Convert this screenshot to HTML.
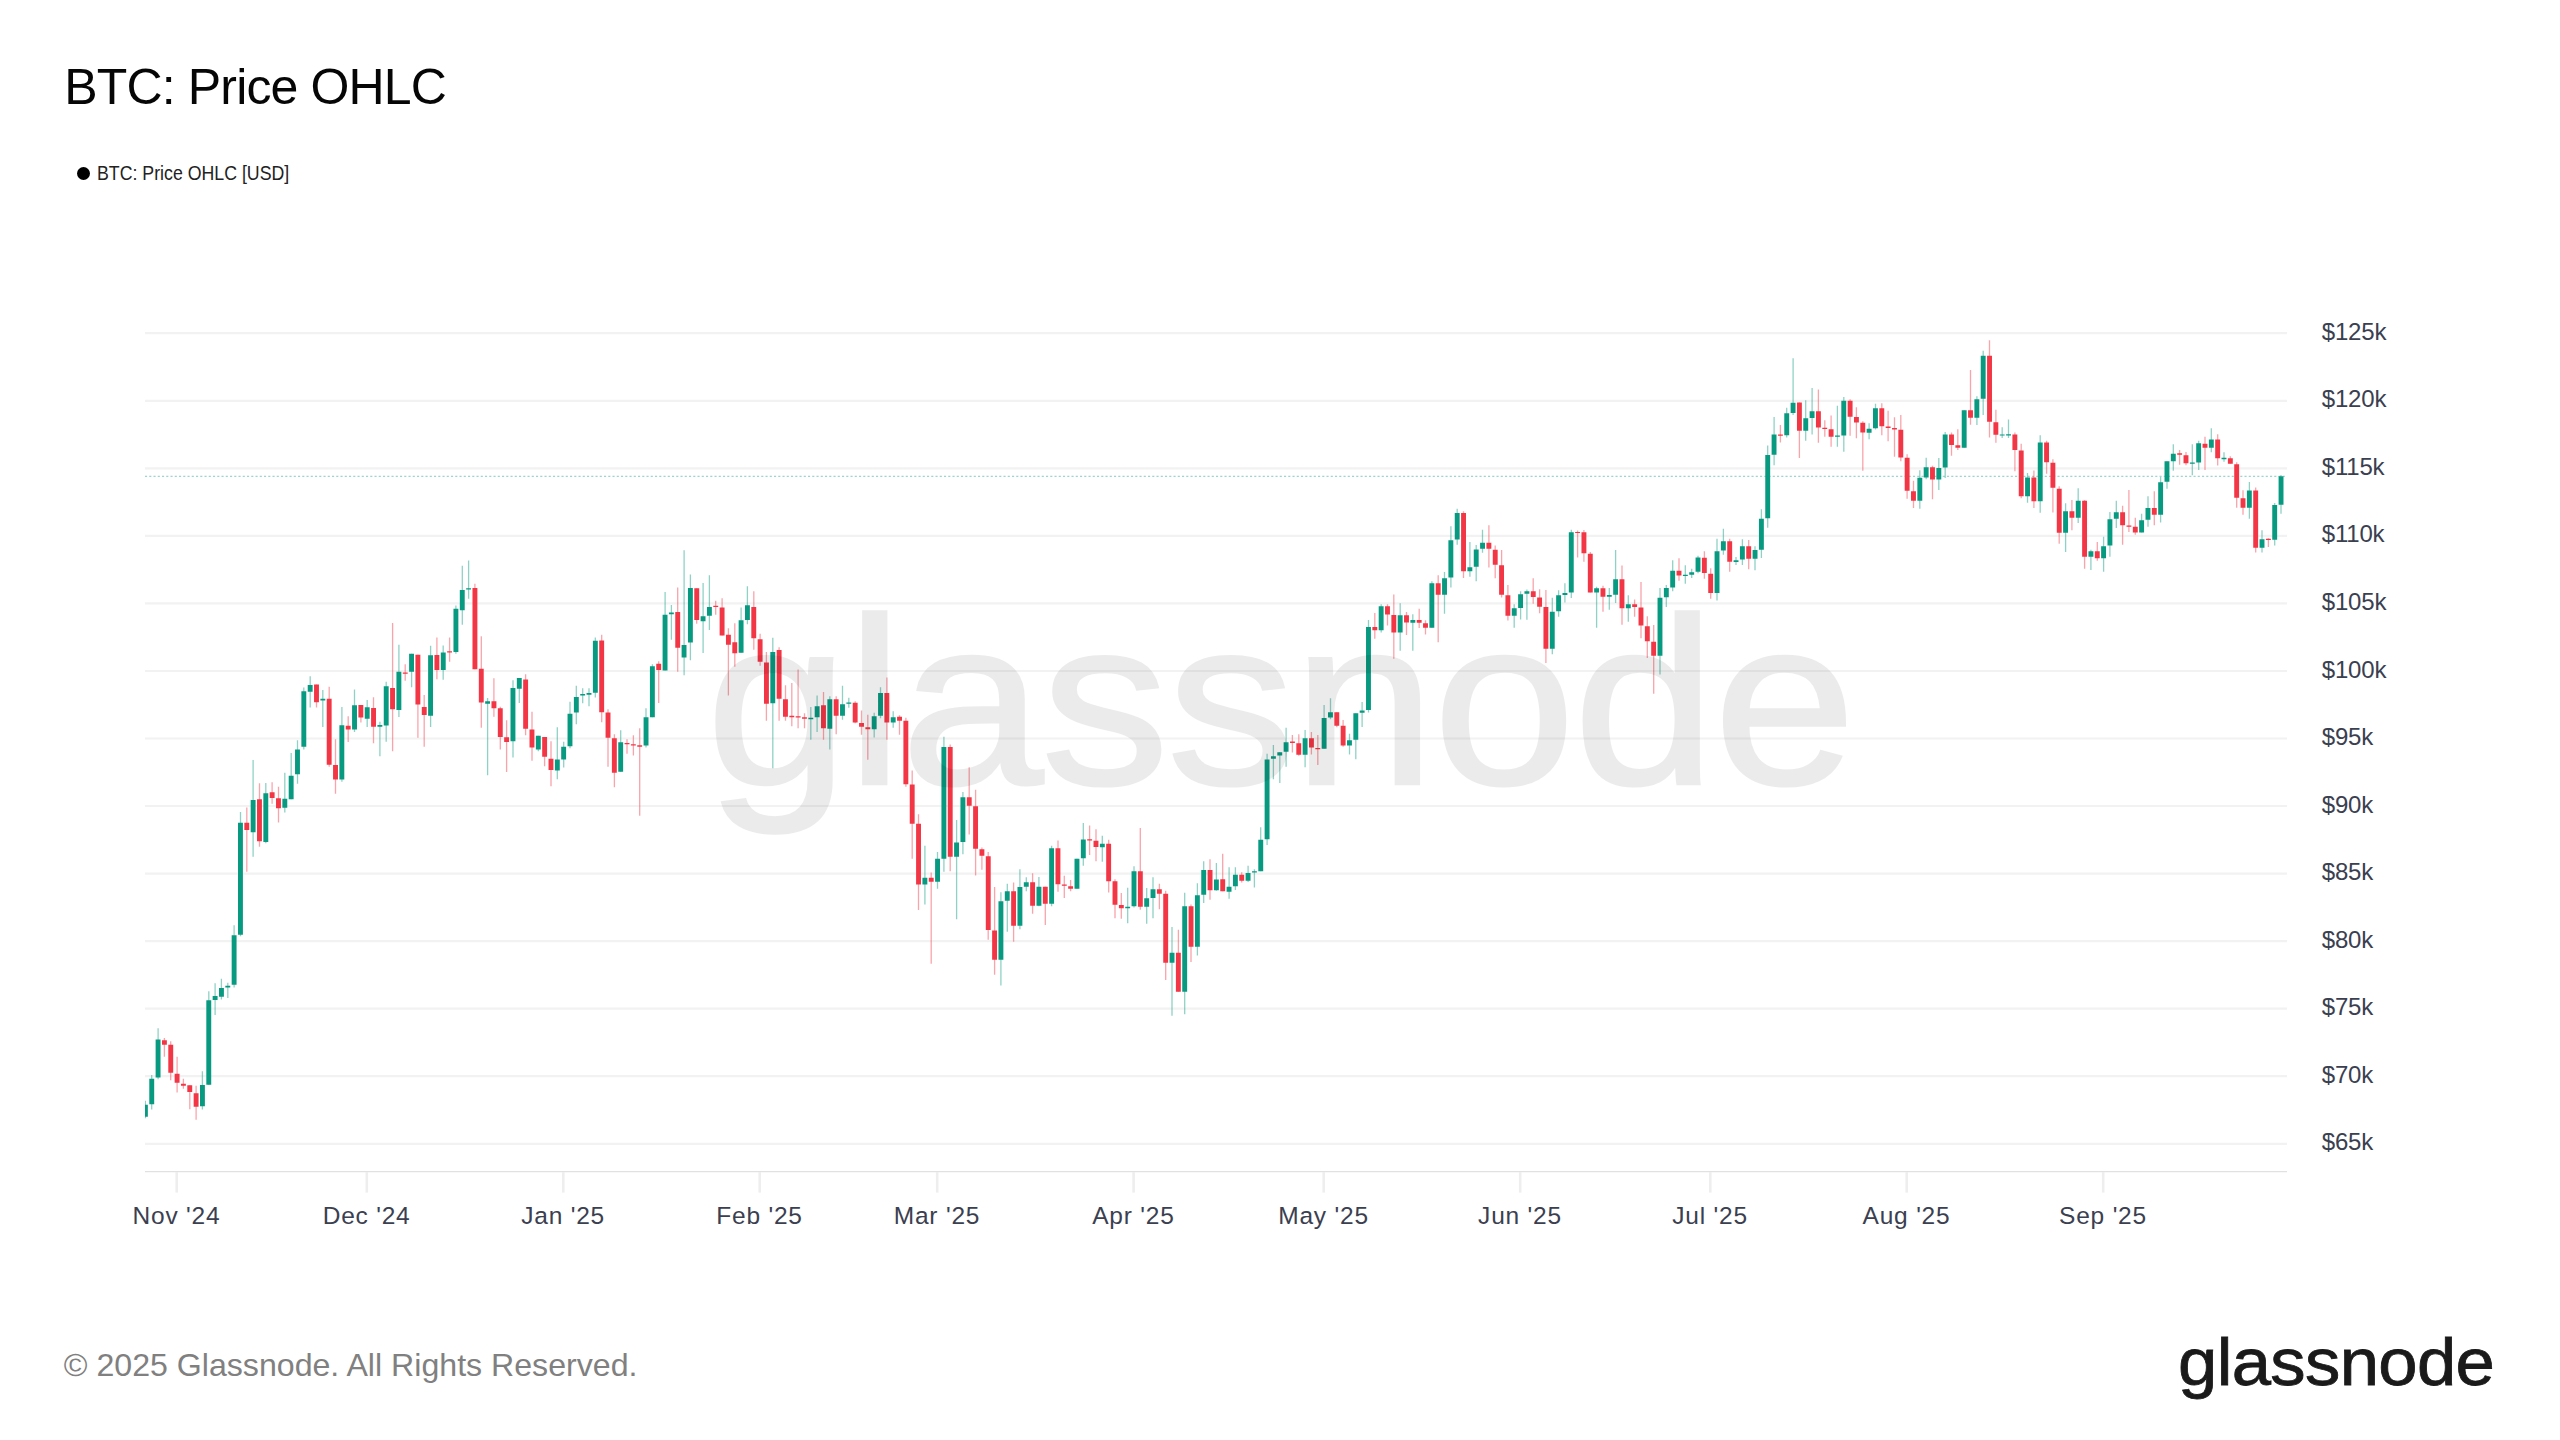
<!DOCTYPE html>
<html lang="en"><head><meta charset="utf-8"><title>BTC: Price OHLC</title>
<style>
html,body{margin:0;padding:0;background:#fff;}
body{width:2560px;height:1440px;position:relative;overflow:hidden;font-family:"Liberation Sans",sans-serif;}
.abs{position:absolute;white-space:nowrap;line-height:1;}
#title{left:64.3px;top:62.0px;font-size:50px;color:#060606;letter-spacing:-0.85px;}
#legend{left:96.6px;top:162.1px;font-size:21px;color:#222;transform-origin:0 0;transform:scaleX(0.845);}
#dot{left:76.6px;top:166.6px;width:13.3px;height:13.3px;border-radius:50%;background:#000;}
#footer{left:63.8px;top:1349.1px;font-size:32.13px;color:#808080;}
#logo{left:2177.5px;top:1328.9px;font-size:66px;color:#1a1a1a;-webkit-text-stroke:0.8px #1a1a1a;letter-spacing:-0.6px;transform-origin:0 0;transform:scaleX(1.07);}
#wm{left:705.8px;top:582.5px;font-size:238px;color:#000;opacity:0.075;-webkit-text-stroke:2.5px #000;letter-spacing:-2.16px;transform-origin:0 0;transform:scaleX(1.077);}
.yl{left:2321.8px;font-size:24px;color:#3b4050;letter-spacing:-0.2px;}
.xl{font-size:24.5px;color:#3b4050;transform:translateX(-50%);top:1203.8px;letter-spacing:0.8px;}
svg{position:absolute;left:0;top:0;}
</style></head><body>
<svg width="2560" height="1440" viewBox="0 0 2560 1440" shape-rendering="auto">
<g stroke="#f2f2f2" stroke-width="2.2">
<line x1="145" y1="333.2" x2="2287" y2="333.2"/>
<line x1="145" y1="400.8" x2="2287" y2="400.8"/>
<line x1="145" y1="468.3" x2="2287" y2="468.3"/>
<line x1="145" y1="535.8" x2="2287" y2="535.8"/>
<line x1="145" y1="603.4" x2="2287" y2="603.4"/>
<line x1="145" y1="671.0" x2="2287" y2="671.0"/>
<line x1="145" y1="738.5" x2="2287" y2="738.5"/>
<line x1="145" y1="806.0" x2="2287" y2="806.0"/>
<line x1="145" y1="873.6" x2="2287" y2="873.6"/>
<line x1="145" y1="941.1" x2="2287" y2="941.1"/>
<line x1="145" y1="1008.7" x2="2287" y2="1008.7"/>
<line x1="145" y1="1076.2" x2="2287" y2="1076.2"/>
<line x1="145" y1="1143.8" x2="2287" y2="1143.8"/>
</g>
<line x1="145" y1="1171.6" x2="2287" y2="1171.6" stroke="#e1e1e1" stroke-width="1.3"/>
<g stroke="#eeeeee" stroke-width="2.6">
<line x1="176.7" y1="1172" x2="176.7" y2="1192.6"/>
<line x1="366.8" y1="1172" x2="366.8" y2="1192.6"/>
<line x1="563.3" y1="1172" x2="563.3" y2="1192.6"/>
<line x1="759.7" y1="1172" x2="759.7" y2="1192.6"/>
<line x1="937.2" y1="1172" x2="937.2" y2="1192.6"/>
<line x1="1133.6" y1="1172" x2="1133.6" y2="1192.6"/>
<line x1="1323.7" y1="1172" x2="1323.7" y2="1192.6"/>
<line x1="1520.2" y1="1172" x2="1520.2" y2="1192.6"/>
<line x1="1710.3" y1="1172" x2="1710.3" y2="1192.6"/>
<line x1="1906.7" y1="1172" x2="1906.7" y2="1192.6"/>
<line x1="2103.2" y1="1172" x2="2103.2" y2="1192.6"/>
</g>
<line x1="145" y1="476.3" x2="2287" y2="476.3" stroke="#089981" stroke-opacity="0.5" stroke-width="1" stroke-dasharray="2.1,2.15"/>
<clipPath id="cp"><rect x="145" y="300" width="2142" height="871"/></clipPath>
<g clip-path="url(#cp)">
<g fill="#089981" stroke="#089981" stroke-width="1.3" stroke-opacity="0.45">
<path fill="none" d="M145.4 1100.8V1118.3M151.7 1075.0V1109.5M158.1 1028.3V1079.2M202.4 1071.2V1109.5M208.8 991.3V1085.0M215.1 983.3V1015.0M221.4 978.7V999.5M227.8 982.8V998.0M234.1 925.3V987.5M240.5 812.0V936.3M253.1 760.0V856.7M265.8 783.0V843.3M284.8 772.8V812.5M291.2 753.0V799.2M297.5 740.3V783.7M303.8 687.5V749.5M310.2 676.2V707.5M322.8 690.0V727.0M341.9 707.0V781.7M354.5 689.5V732.0M367.2 700.0V727.0M379.9 721.7V756.3M386.2 681.7V741.7M398.9 644.7V717.0M411.6 653.7V687.2M430.6 645.8V727.0M443.2 645.5V679.7M455.9 605.5V653.7M462.3 565.8V624.7M468.6 560.5V598.8M487.6 698.0V775.3M513.0 680.3V757.5M519.3 678.0V703.0M538.3 735.8V751.2M557.3 727.2V779.2M563.7 741.7V767.5M570.0 701.7V748.3M576.3 685.8V724.2M582.7 688.3V703.3M589.0 688.3V706.2M595.3 637.5V697.5M620.7 730.3V772.0M646.0 708.3V747.5M652.4 664.2V717.2M665.1 592.0V670.5M671.4 605.0V639.7M684.1 550.3V675.3M690.4 574.5V660.3M703.1 583.0V653.0M709.4 575.3V630.0M741.1 607.5V652.8M747.4 586.3V624.2M772.8 637.8V768.3M810.8 707.0V739.7M817.1 695.5V732.0M829.8 696.2V749.5M842.5 685.8V719.7M848.8 697.8V707.8M874.2 712.8V737.5M880.5 687.2V718.3M893.2 711.3V727.8M924.9 845.8V904.5M937.5 852.0V888.8M943.9 736.7V871.7M956.6 820.0V919.2M962.9 792.0V854.2M1000.9 892.2V985.5M1007.3 883.8V931.7M1019.9 869.2V929.2M1026.3 877.2V891.3M1038.9 877.0V906.3M1051.6 845.8V906.2M1077.0 858.7V888.8M1083.3 823.0V865.8M1102.3 835.8V861.7M1127.7 887.8V923.3M1134.0 866.3V907.5M1146.7 888.0V923.7M1153.0 877.2V918.3M1172.0 927.0V1015.8M1184.7 892.8V1014.2M1197.4 883.3V955.5M1203.7 861.3V903.0M1216.4 863.0V890.8M1229.1 867.2V898.7M1235.4 867.2V890.0M1248.1 865.8V882.0M1254.4 869.2V887.5M1260.7 827.2V871.2M1267.1 753.8V845.0M1273.4 745.0V779.2M1279.8 752.2V783.0M1286.1 727.8V766.7M1305.1 730.0V767.2M1324.1 705.0V748.8M1330.5 698.3V719.2M1349.5 733.8V754.5M1355.8 713.3V759.2M1362.1 702.0V727.0M1368.5 620.0V712.5M1381.2 604.2V632.5M1400.2 603.3V650.8M1412.8 614.2V650.8M1431.9 581.2V627.8M1444.5 572.0V613.8M1450.9 526.3V587.5M1457.2 508.8V544.7M1469.9 542.0V576.7M1476.2 545.0V581.2M1482.5 529.7V552.8M1514.2 604.2V627.8M1520.6 591.2V619.5M1526.9 589.5V619.7M1552.3 597.8V654.2M1558.6 590.3V616.7M1564.9 583.3V602.5M1571.3 529.7V598.0M1596.6 586.7V627.8M1609.3 588.0V609.7M1615.6 550.0V603.0M1628.3 595.3V621.7M1660.0 588.0V674.5M1666.3 585.0V607.0M1672.7 560.3V591.2M1685.3 565.3V583.7M1691.7 568.8V578.0M1698.0 555.8V573.3M1717.0 538.7V600.5M1723.4 528.7V554.7M1736.0 557.0V565.0M1742.4 539.2V565.0M1755.0 546.2V570.3M1761.4 509.2V558.0M1767.7 445.5V527.8M1774.1 417.0V465.3M1786.7 407.8V437.5M1793.1 358.3V415.0M1805.7 400.3V440.8M1812.1 388.0V434.5M1837.4 405.8V446.7M1843.8 397.0V451.7M1869.1 423.3V439.2M1875.5 403.7V429.5M1919.8 470.3V508.8M1926.2 457.8V479.2M1938.8 458.0V490.0M1945.2 432.0V478.0M1964.2 410.3V447.8M1976.9 396.2V425.0M1983.2 350.8V415.0M2002.2 427.2V438.0M2008.5 419.5V438.0M2027.5 473.0V502.8M2040.2 435.3V512.8M2065.6 503.3V552.0M2078.2 488.3V523.0M2090.9 549.7V570.0M2103.6 536.7V571.7M2109.9 512.0V556.7M2116.3 500.8V528.0M2141.6 513.8V532.5M2148.0 496.2V526.7M2160.6 477.0V522.5M2167.0 461.3V488.7M2173.3 444.2V470.8M2192.3 444.2V475.3M2198.7 440.8V470.0M2211.3 428.3V452.2M2224.0 452.2V461.7M2249.4 482.0V518.7M2262.0 530.3V552.5M2274.7 503.0V545.5M2281.0 475.0V513.8"/>
<path stroke="none" d="M142.95 1104.7h4.9V1116.7h-4.9zM149.29 1078.7h4.9V1104.2h-4.9zM155.62 1039.5h4.9V1077.5h-4.9zM199.98 1085.0h4.9V1106.3h-4.9zM206.32 1000.3h4.9V1084.7h-4.9zM212.66 996.0h4.9V1000.0h-4.9zM219.00 988.0h4.9V996.7h-4.9zM225.33 985.8h4.9V987.5h-4.9zM231.67 935.3h4.9V984.7h-4.9zM238.01 822.8h4.9V934.7h-4.9zM250.68 800.0h4.9V832.2h-4.9zM263.36 793.3h4.9V842.0h-4.9zM282.37 798.7h4.9V807.8h-4.9zM288.71 775.8h4.9V799.2h-4.9zM295.04 749.5h4.9V774.2h-4.9zM301.38 691.2h4.9V746.7h-4.9zM307.72 685.0h4.9V691.7h-4.9zM320.39 698.8h4.9V700.5h-4.9zM339.40 725.3h4.9V779.5h-4.9zM352.08 705.3h4.9V729.5h-4.9zM364.75 707.2h4.9V718.7h-4.9zM377.43 725.0h4.9V726.7h-4.9zM383.76 686.3h4.9V725.5h-4.9zM396.44 671.7h4.9V710.0h-4.9zM409.11 653.7h4.9V671.7h-4.9zM428.12 655.3h4.9V715.8h-4.9zM440.80 652.5h4.9V670.0h-4.9zM453.47 608.8h4.9V652.0h-4.9zM459.81 590.0h4.9V610.3h-4.9zM466.15 588.2h4.9V589.5h-4.9zM485.16 701.3h4.9V703.7h-4.9zM510.51 688.0h4.9V741.3h-4.9zM516.84 678.0h4.9V688.8h-4.9zM535.86 735.8h4.9V749.5h-4.9zM554.87 759.5h4.9V770.5h-4.9zM561.21 746.7h4.9V759.5h-4.9zM567.54 713.7h4.9V746.2h-4.9zM573.88 697.0h4.9V712.5h-4.9zM580.22 694.1h4.9V695.4h-4.9zM586.55 693.0h4.9V694.7h-4.9zM592.89 640.8h4.9V692.8h-4.9zM618.24 742.2h4.9V771.7h-4.9zM643.59 717.2h4.9V745.5h-4.9zM649.93 666.3h4.9V717.2h-4.9zM662.60 614.7h4.9V670.5h-4.9zM668.94 612.5h4.9V614.2h-4.9zM681.61 645.0h4.9V657.5h-4.9zM687.95 588.0h4.9V642.5h-4.9zM700.62 616.3h4.9V621.2h-4.9zM706.96 607.0h4.9V615.8h-4.9zM738.65 620.3h4.9V652.8h-4.9zM744.98 605.3h4.9V620.0h-4.9zM770.33 652.0h4.9V703.3h-4.9zM808.36 717.8h4.9V719.2h-4.9zM814.69 706.3h4.9V717.2h-4.9zM827.37 699.2h4.9V728.7h-4.9zM840.04 704.2h4.9V715.8h-4.9zM846.38 702.5h4.9V703.8h-4.9zM871.73 716.2h4.9V729.2h-4.9zM878.07 693.0h4.9V715.8h-4.9zM890.74 717.2h4.9V722.5h-4.9zM922.43 877.8h4.9V884.5h-4.9zM935.10 858.8h4.9V881.7h-4.9zM941.44 747.0h4.9V858.8h-4.9zM954.11 842.5h4.9V856.7h-4.9zM960.45 797.2h4.9V842.0h-4.9zM998.47 901.3h4.9V959.7h-4.9zM1004.81 891.2h4.9V900.8h-4.9zM1017.48 887.0h4.9V925.8h-4.9zM1023.82 882.2h4.9V886.7h-4.9zM1036.50 886.7h4.9V905.8h-4.9zM1049.17 848.3h4.9V903.8h-4.9zM1074.52 858.7h4.9V888.8h-4.9zM1080.86 839.5h4.9V858.3h-4.9zM1099.87 843.7h4.9V847.2h-4.9zM1125.22 906.7h4.9V908.3h-4.9zM1131.55 871.2h4.9V906.2h-4.9zM1144.23 898.3h4.9V906.7h-4.9zM1150.56 889.2h4.9V898.0h-4.9zM1169.58 952.8h4.9V962.8h-4.9zM1182.25 906.2h4.9V991.7h-4.9zM1194.93 895.3h4.9V946.7h-4.9zM1201.26 870.0h4.9V894.7h-4.9zM1213.94 879.5h4.9V890.3h-4.9zM1226.61 886.7h4.9V891.7h-4.9zM1232.95 874.7h4.9V886.2h-4.9zM1245.62 873.0h4.9V880.8h-4.9zM1251.96 871.2h4.9V872.5h-4.9zM1258.30 839.7h4.9V871.2h-4.9zM1264.63 759.5h4.9V839.2h-4.9zM1270.97 756.2h4.9V758.8h-4.9zM1277.31 752.2h4.9V755.5h-4.9zM1283.65 742.2h4.9V751.7h-4.9zM1302.66 738.3h4.9V754.7h-4.9zM1321.67 718.0h4.9V748.8h-4.9zM1328.01 712.2h4.9V717.5h-4.9zM1347.02 740.3h4.9V745.5h-4.9zM1353.36 713.3h4.9V739.7h-4.9zM1359.69 710.5h4.9V712.8h-4.9zM1366.03 627.0h4.9V710.0h-4.9zM1378.70 606.3h4.9V630.3h-4.9zM1397.72 615.3h4.9V632.5h-4.9zM1410.39 620.0h4.9V622.8h-4.9zM1429.40 583.3h4.9V627.8h-4.9zM1442.08 578.3h4.9V594.7h-4.9zM1448.41 540.3h4.9V577.5h-4.9zM1454.75 513.0h4.9V539.5h-4.9zM1467.42 567.2h4.9V571.2h-4.9zM1473.76 549.5h4.9V566.7h-4.9zM1480.10 542.8h4.9V548.7h-4.9zM1511.79 608.3h4.9V615.8h-4.9zM1518.12 594.2h4.9V608.0h-4.9zM1524.46 591.2h4.9V593.8h-4.9zM1549.81 611.7h4.9V648.7h-4.9zM1556.15 595.3h4.9V611.2h-4.9zM1562.48 593.0h4.9V595.0h-4.9zM1568.82 532.2h4.9V592.5h-4.9zM1594.17 588.3h4.9V592.5h-4.9zM1606.84 595.0h4.9V596.7h-4.9zM1613.18 579.2h4.9V594.7h-4.9zM1625.85 604.2h4.9V608.3h-4.9zM1657.54 597.8h4.9V655.8h-4.9zM1663.88 588.0h4.9V597.2h-4.9zM1670.22 570.8h4.9V587.5h-4.9zM1682.89 574.8h4.9V576.0h-4.9zM1689.23 572.2h4.9V574.7h-4.9zM1695.56 557.5h4.9V571.7h-4.9zM1714.58 551.2h4.9V593.0h-4.9zM1720.91 541.2h4.9V550.5h-4.9zM1733.59 560.3h4.9V562.0h-4.9zM1739.92 546.3h4.9V559.5h-4.9zM1752.60 550.0h4.9V558.8h-4.9zM1758.94 518.8h4.9V549.7h-4.9zM1765.27 455.0h4.9V518.3h-4.9zM1771.61 434.5h4.9V454.7h-4.9zM1784.28 413.3h4.9V435.3h-4.9zM1790.62 402.8h4.9V413.0h-4.9zM1803.30 418.3h4.9V430.8h-4.9zM1809.63 411.2h4.9V418.0h-4.9zM1834.98 435.5h4.9V436.8h-4.9zM1841.32 400.8h4.9V435.5h-4.9zM1866.67 428.8h4.9V432.8h-4.9zM1873.01 408.3h4.9V428.3h-4.9zM1917.37 477.8h4.9V500.8h-4.9zM1923.70 467.2h4.9V477.5h-4.9zM1936.38 468.0h4.9V479.5h-4.9zM1942.71 434.5h4.9V467.5h-4.9zM1961.73 410.3h4.9V447.8h-4.9zM1974.40 399.2h4.9V417.8h-4.9zM1980.74 355.8h4.9V398.7h-4.9zM1999.75 434.4h4.9V435.6h-4.9zM2006.09 434.2h4.9V435.5h-4.9zM2025.10 477.5h4.9V496.2h-4.9zM2037.77 442.5h4.9V501.3h-4.9zM2063.12 511.3h4.9V532.8h-4.9zM2075.80 500.8h4.9V517.8h-4.9zM2088.47 551.3h4.9V556.7h-4.9zM2101.14 546.2h4.9V558.3h-4.9zM2107.48 519.2h4.9V545.5h-4.9zM2113.82 512.2h4.9V518.7h-4.9zM2139.17 520.3h4.9V532.5h-4.9zM2145.51 508.0h4.9V519.7h-4.9zM2158.18 482.2h4.9V514.7h-4.9zM2164.52 461.3h4.9V481.7h-4.9zM2170.85 453.7h4.9V461.2h-4.9zM2189.87 462.5h4.9V463.8h-4.9zM2196.20 443.3h4.9V462.5h-4.9zM2208.88 439.5h4.9V447.8h-4.9zM2221.55 457.8h4.9V459.2h-4.9zM2246.90 490.5h4.9V507.8h-4.9zM2259.57 539.2h4.9V547.8h-4.9zM2272.25 505.0h4.9V539.7h-4.9zM2278.59 476.3h4.9V504.7h-4.9z"/>
</g>
<g fill="#f23645" stroke="#f23645" stroke-width="1.3" stroke-opacity="0.45">
<path fill="none" d="M164.4 1038.0V1056.7M170.7 1041.2V1080.3M177.1 1056.7V1092.5M183.4 1078.7V1088.7M189.8 1085.3V1109.2M196.1 1085.8V1119.7M246.8 807.5V871.7M259.5 783.3V846.7M272.1 782.2V803.7M278.5 786.7V822.5M316.5 684.5V707.5M329.2 686.7V766.7M335.5 739.2V793.8M348.2 716.3V742.0M360.9 705.0V722.5M373.5 697.2V743.3M392.6 623.0V751.2M405.2 664.2V680.8M417.9 654.7V737.8M424.2 695.0V746.7M436.9 637.5V679.2M449.6 637.5V661.7M474.9 583.8V669.2M481.3 636.2V727.8M493.9 678.3V716.7M500.3 706.7V749.5M506.6 720.3V772.0M525.6 674.2V735.3M532.0 711.7V760.8M544.6 737.0V766.3M551.0 741.2V786.3M601.7 634.7V722.2M608.0 709.2V766.7M614.4 734.2V787.3M627.0 739.2V753.8M633.4 735.3V755.5M639.7 728.3V815.8M658.7 661.2V703.0M677.7 587.5V671.7M696.7 588.3V623.8M715.7 600.8V614.7M722.1 598.3V635.5M728.4 628.3V695.5M734.8 623.3V666.7M753.8 591.2V649.7M760.1 633.8V665.8M766.4 652.0V720.8M779.1 647.2V720.8M785.5 685.3V720.8M791.8 683.0V726.2M798.1 669.5V728.3M804.5 713.3V728.3M823.5 692.0V739.7M836.2 696.2V734.2M855.2 701.2V723.3M861.5 710.5V734.7M867.8 714.7V759.7M886.9 677.5V739.7M899.5 715.3V734.7M905.9 717.8V786.7M912.2 770.5V858.8M918.5 814.2V910.0M931.2 872.5V963.7M950.2 744.5V871.2M969.2 767.2V834.5M975.6 789.7V875.5M981.9 847.5V869.7M988.2 852.0V939.7M994.6 887.0V974.7M1013.6 882.5V941.7M1032.6 873.3V913.8M1045.3 886.7V925.0M1058.0 840.5V891.7M1064.3 875.8V898.0M1070.6 880.0V891.3M1089.6 825.5V855.0M1096.0 829.2V861.3M1108.7 839.7V892.5M1115.0 879.2V918.3M1121.3 893.0V918.8M1140.3 828.0V909.7M1159.4 883.8V909.2M1165.7 890.8V980.0M1178.4 929.7V991.7M1191.0 904.5V962.0M1210.0 859.2V899.7M1222.7 853.8V891.3M1241.7 872.2V882.5M1292.4 735.0V752.5M1298.8 734.2V755.8M1311.4 732.0V754.5M1317.8 735.0V765.0M1336.8 712.2V727.2M1343.1 720.0V746.7M1374.8 613.0V638.7M1387.5 604.2V625.5M1393.8 594.5V658.8M1406.5 612.0V635.0M1419.2 608.8V628.0M1425.5 620.3V634.5M1438.2 575.3V642.2M1463.5 511.3V578.0M1488.9 525.3V567.5M1495.2 545.5V578.3M1501.6 550.0V597.5M1507.9 585.0V620.5M1533.2 578.3V603.8M1539.6 589.2V613.3M1545.9 590.0V663.0M1577.6 530.5V557.5M1583.9 530.0V561.7M1590.3 552.0V592.5M1603.0 585.8V611.7M1622.0 565.5V624.7M1634.6 599.5V616.7M1641.0 582.0V638.3M1647.3 616.3V658.0M1653.7 625.0V693.7M1679.0 558.3V580.8M1704.4 551.3V578.8M1710.7 568.3V598.8M1729.7 538.7V571.7M1748.7 540.0V569.2M1780.4 425.0V442.5M1799.4 402.5V458.0M1818.4 389.5V442.8M1824.8 420.3V436.7M1831.1 415.5V446.7M1850.1 399.2V435.8M1856.4 407.2V438.3M1862.8 421.2V470.8M1881.8 403.3V435.3M1888.1 410.8V441.2M1894.5 417.2V456.7M1900.8 415.0V461.2M1907.1 454.2V498.7M1913.5 480.8V508.0M1932.5 465.8V499.2M1951.5 432.5V455.8M1957.8 429.2V450.0M1970.5 370.0V424.7M1989.5 340.3V437.5M1995.9 409.7V442.8M2014.9 432.5V471.2M2021.2 443.8V498.3M2033.9 470.5V508.0M2046.6 440.8V473.8M2052.9 459.2V512.5M2059.2 486.2V543.8M2071.9 500.0V530.3M2084.6 500.0V568.8M2097.3 542.0V560.8M2122.6 505.8V544.7M2128.9 490.0V532.0M2135.3 517.8V534.7M2154.3 491.3V525.3M2179.6 450.0V464.7M2186.0 452.0V465.3M2205.0 436.7V470.0M2217.7 434.2V465.5M2230.3 456.3V463.8M2236.7 462.2V507.8M2243.0 490.3V514.7M2255.7 487.5V552.5M2268.4 538.3V547.0"/>
<path stroke="none" d="M161.96 1040.3h4.9V1044.7h-4.9zM168.30 1044.7h4.9V1072.8h-4.9zM174.64 1073.8h4.9V1082.8h-4.9zM180.97 1083.7h4.9V1085.8h-4.9zM187.31 1085.3h4.9V1092.0h-4.9zM193.65 1093.3h4.9V1106.7h-4.9zM244.35 822.8h4.9V830.0h-4.9zM257.02 799.2h4.9V841.3h-4.9zM269.69 792.2h4.9V798.0h-4.9zM276.03 798.3h4.9V808.3h-4.9zM314.05 684.5h4.9V702.2h-4.9zM326.73 698.7h4.9V764.7h-4.9zM333.07 765.0h4.9V779.5h-4.9zM345.74 725.8h4.9V729.5h-4.9zM358.41 705.0h4.9V717.5h-4.9zM371.09 708.0h4.9V726.7h-4.9zM390.10 688.0h4.9V709.2h-4.9zM402.78 672.5h4.9V673.8h-4.9zM415.45 654.7h4.9V704.5h-4.9zM421.79 707.0h4.9V715.0h-4.9zM434.46 655.0h4.9V670.0h-4.9zM447.14 651.2h4.9V652.5h-4.9zM472.48 588.0h4.9V669.2h-4.9zM478.82 668.8h4.9V702.5h-4.9zM491.50 701.2h4.9V708.3h-4.9zM497.83 708.3h4.9V737.0h-4.9zM504.17 737.2h4.9V742.0h-4.9zM523.18 679.5h4.9V728.7h-4.9zM529.52 729.5h4.9V747.5h-4.9zM542.19 737.0h4.9V756.7h-4.9zM548.53 758.7h4.9V770.0h-4.9zM599.23 640.5h4.9V712.2h-4.9zM605.57 712.5h4.9V737.8h-4.9zM611.90 738.3h4.9V772.8h-4.9zM624.58 743.0h4.9V744.2h-4.9zM630.91 744.2h4.9V745.5h-4.9zM637.25 745.3h4.9V746.7h-4.9zM656.26 663.7h4.9V670.0h-4.9zM675.27 612.0h4.9V647.8h-4.9zM694.29 588.3h4.9V620.0h-4.9zM713.30 605.8h4.9V607.0h-4.9zM719.64 607.5h4.9V635.5h-4.9zM725.97 634.7h4.9V644.7h-4.9zM732.31 642.2h4.9V653.3h-4.9zM751.32 607.0h4.9V638.3h-4.9zM757.66 639.2h4.9V661.7h-4.9zM764.00 662.5h4.9V703.7h-4.9zM776.67 650.0h4.9V698.7h-4.9zM783.01 699.2h4.9V716.7h-4.9zM789.34 715.8h4.9V717.2h-4.9zM795.68 716.2h4.9V717.5h-4.9zM802.02 717.2h4.9V718.7h-4.9zM821.03 705.3h4.9V728.3h-4.9zM833.70 699.2h4.9V715.8h-4.9zM852.72 702.8h4.9V722.5h-4.9zM859.05 723.0h4.9V726.7h-4.9zM865.39 727.2h4.9V729.2h-4.9zM884.40 693.0h4.9V722.5h-4.9zM897.08 716.7h4.9V720.8h-4.9zM903.41 720.8h4.9V784.2h-4.9zM909.75 784.5h4.9V823.7h-4.9zM916.09 823.8h4.9V884.5h-4.9zM928.76 877.8h4.9V881.7h-4.9zM947.77 747.0h4.9V856.7h-4.9zM966.79 797.2h4.9V805.8h-4.9zM973.12 806.3h4.9V848.8h-4.9zM979.46 849.2h4.9V855.8h-4.9zM985.80 856.2h4.9V930.0h-4.9zM992.13 930.5h4.9V959.7h-4.9zM1011.15 891.2h4.9V925.8h-4.9zM1030.16 882.2h4.9V905.8h-4.9zM1042.83 886.7h4.9V903.8h-4.9zM1055.51 848.3h4.9V884.2h-4.9zM1061.84 884.5h4.9V885.8h-4.9zM1068.18 886.2h4.9V888.8h-4.9zM1087.19 839.2h4.9V840.5h-4.9zM1093.53 840.8h4.9V847.0h-4.9zM1106.20 843.7h4.9V881.2h-4.9zM1112.54 881.3h4.9V904.7h-4.9zM1118.88 905.0h4.9V908.3h-4.9zM1137.89 871.2h4.9V906.7h-4.9zM1156.90 889.2h4.9V893.7h-4.9zM1163.24 893.7h4.9V962.8h-4.9zM1175.91 952.8h4.9V991.7h-4.9zM1188.59 906.2h4.9V946.7h-4.9zM1207.60 870.0h4.9V890.3h-4.9zM1220.27 879.2h4.9V891.3h-4.9zM1239.29 874.7h4.9V880.8h-4.9zM1289.98 741.6h4.9V742.9h-4.9zM1296.32 743.3h4.9V754.7h-4.9zM1308.99 738.3h4.9V747.5h-4.9zM1315.33 748.0h4.9V749.2h-4.9zM1334.34 712.2h4.9V725.8h-4.9zM1340.68 725.8h4.9V745.5h-4.9zM1372.37 627.0h4.9V630.3h-4.9zM1385.04 606.3h4.9V614.5h-4.9zM1391.38 615.0h4.9V632.5h-4.9zM1404.05 615.3h4.9V622.5h-4.9zM1416.73 620.0h4.9V622.8h-4.9zM1423.06 623.3h4.9V627.8h-4.9zM1435.74 583.3h4.9V594.7h-4.9zM1461.09 513.0h4.9V571.2h-4.9zM1486.44 542.8h4.9V548.8h-4.9zM1492.77 549.7h4.9V564.7h-4.9zM1499.11 565.3h4.9V594.7h-4.9zM1505.45 595.3h4.9V615.8h-4.9zM1530.80 591.2h4.9V597.0h-4.9zM1537.13 597.5h4.9V606.7h-4.9zM1543.47 607.0h4.9V648.7h-4.9zM1575.16 531.9h4.9V533.1h-4.9zM1581.49 532.2h4.9V553.3h-4.9zM1587.83 553.8h4.9V592.5h-4.9zM1600.51 588.3h4.9V596.7h-4.9zM1619.52 579.2h4.9V608.3h-4.9zM1632.19 604.2h4.9V607.0h-4.9zM1638.53 607.5h4.9V625.5h-4.9zM1644.87 626.2h4.9V641.3h-4.9zM1651.20 641.7h4.9V655.8h-4.9zM1676.55 570.8h4.9V575.5h-4.9zM1701.90 557.8h4.9V573.0h-4.9zM1708.24 573.7h4.9V593.0h-4.9zM1727.25 541.2h4.9V561.7h-4.9zM1746.26 546.3h4.9V558.8h-4.9zM1777.95 434.5h4.9V435.8h-4.9zM1796.96 402.5h4.9V430.8h-4.9zM1815.97 411.2h4.9V427.5h-4.9zM1822.31 427.7h4.9V428.9h-4.9zM1828.65 429.2h4.9V436.7h-4.9zM1847.66 400.8h4.9V416.7h-4.9zM1853.99 417.0h4.9V422.5h-4.9zM1860.33 422.8h4.9V432.5h-4.9zM1879.34 408.3h4.9V426.3h-4.9zM1885.68 426.6h4.9V427.9h-4.9zM1892.02 428.0h4.9V429.5h-4.9zM1898.35 429.7h4.9V457.5h-4.9zM1904.69 457.8h4.9V490.8h-4.9zM1911.03 491.2h4.9V500.8h-4.9zM1930.04 467.2h4.9V479.5h-4.9zM1949.05 434.5h4.9V445.0h-4.9zM1955.39 445.3h4.9V447.8h-4.9zM1968.06 410.3h4.9V417.8h-4.9zM1987.08 355.8h4.9V421.7h-4.9zM1993.41 422.2h4.9V434.7h-4.9zM2012.42 434.5h4.9V450.0h-4.9zM2018.76 450.5h4.9V496.2h-4.9zM2031.44 477.5h4.9V501.3h-4.9zM2044.11 442.5h4.9V462.2h-4.9zM2050.45 462.8h4.9V487.8h-4.9zM2056.78 488.7h4.9V532.8h-4.9zM2069.46 511.3h4.9V517.8h-4.9zM2082.13 500.8h4.9V556.7h-4.9zM2094.81 551.3h4.9V558.3h-4.9zM2120.16 512.2h4.9V525.3h-4.9zM2126.49 525.5h4.9V526.8h-4.9zM2132.83 526.7h4.9V532.5h-4.9zM2151.84 508.0h4.9V514.7h-4.9zM2177.19 453.3h4.9V454.7h-4.9zM2183.53 455.3h4.9V463.3h-4.9zM2202.54 443.7h4.9V447.8h-4.9zM2215.21 439.5h4.9V458.3h-4.9zM2227.89 458.3h4.9V463.8h-4.9zM2234.23 464.2h4.9V497.8h-4.9zM2240.56 498.3h4.9V507.8h-4.9zM2253.24 490.5h4.9V547.8h-4.9zM2265.91 538.8h4.9V540.0h-4.9z"/>
</g>
</g>
</svg>
<div class="abs" id="title">BTC: Price OHLC</div>
<div class="abs" id="dot"></div><div class="abs" id="legend">BTC: Price OHLC [USD]</div>
<div class="abs yl" style="top:319.7px">$125k</div>
<div class="abs yl" style="top:387.2px">$120k</div>
<div class="abs yl" style="top:454.8px">$115k</div>
<div class="abs yl" style="top:522.3px">$110k</div>
<div class="abs yl" style="top:589.9px">$105k</div>
<div class="abs yl" style="top:657.5px">$100k</div>
<div class="abs yl" style="top:725.0px">$95k</div>
<div class="abs yl" style="top:792.5px">$90k</div>
<div class="abs yl" style="top:860.1px">$85k</div>
<div class="abs yl" style="top:927.6px">$80k</div>
<div class="abs yl" style="top:995.2px">$75k</div>
<div class="abs yl" style="top:1062.8px">$70k</div>
<div class="abs yl" style="top:1130.3px">$65k</div>
<div class="abs xl" style="left:176.5px">Nov '24</div>
<div class="abs xl" style="left:366.6px">Dec '24</div>
<div class="abs xl" style="left:563.1px">Jan '25</div>
<div class="abs xl" style="left:759.5px">Feb '25</div>
<div class="abs xl" style="left:937.0px">Mar '25</div>
<div class="abs xl" style="left:1133.4px">Apr '25</div>
<div class="abs xl" style="left:1323.5px">May '25</div>
<div class="abs xl" style="left:1520.0px">Jun '25</div>
<div class="abs xl" style="left:1710.1px">Jul '25</div>
<div class="abs xl" style="left:1906.5px">Aug '25</div>
<div class="abs xl" style="left:2103.0px">Sep '25</div>
<div class="abs" id="wm">glassnode</div>
<div class="abs" id="footer">© 2025 Glassnode. All Rights Reserved.</div>
<div class="abs" id="logo">glassnode</div>
</body></html>
